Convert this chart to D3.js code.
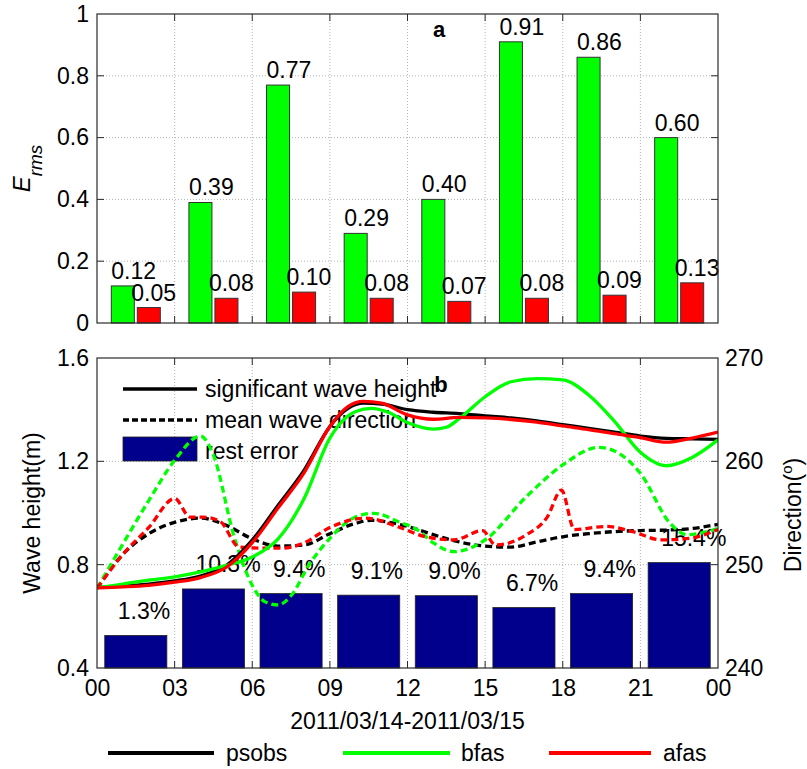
<!DOCTYPE html>
<html>
<head>
<meta charset="utf-8">
<script src="https://cdn.jsdelivr.net/npm/d3@7"></script>
<style>
  body { margin: 0; background: #fff; }
  text { font-family: Arial, "Liberation Sans", sans-serif; fill: #000; }
</style>
</head>
<body>
<svg id="chart" width="807" height="769"></svg>
<script>
// ---- panel a: RMS error per 3-hour window ----
const windows = ["00-03", "03-06", "06-09", "09-12", "12-15", "15-18", "18-21", "21-24"];
const ermsBfas = [0.12, 0.39, 0.77, 0.29, 0.40, 0.91, 0.86, 0.60];
const ermsAfas = [0.05, 0.08, 0.10, 0.08, 0.07, 0.08, 0.09, 0.13];
const ermsTicks = [0, 0.2, 0.4, 0.6, 0.8, 1];

// ---- panel b: rest error (%) per window, wave height and direction series ----
const restError = [1.3, 10.3, 9.4, 9.1, 9.0, 6.7, 9.4, 15.4];
const hourTicks = [0, 3, 6, 9, 12, 15, 18, 21, 24];
const hourLabels = ["00", "03", "06", "09", "12", "15", "18", "21", "00"];
const heightTicks = [0.4, 0.8, 1.2, 1.6];
const dirTicks = [240, 250, 260, 270];

// significant wave height (m), [hour, value]
const hsPsobs = [[0,0.712],[1,0.717],[2,0.725],[3,0.737],[4,0.756],[5,0.797],[6,0.895],[7,1.03],[8,1.165],[9,1.335],[9.7,1.405],[10.3,1.425],[11,1.422],[12,1.40],[13,1.39],[14,1.385],[15,1.376],[16,1.368],[17,1.357],[18,1.342],[19,1.328],[20,1.313],[21,1.298],[22,1.289],[23,1.287],[24,1.285]];
const hsBfas = [[0,0.71],[1,0.725],[2,0.74],[3,0.753],[4,0.772],[5,0.797],[6,0.83],[7,0.90],[8,1.055],[9,1.29],[10,1.393],[10.6,1.405],[11.3,1.388],[12,1.35],[13,1.325],[13.5,1.332],[14,1.365],[15,1.45],[16,1.508],[17,1.52],[18,1.515],[19,1.457],[20,1.355],[21,1.235],[22,1.183],[23,1.215],[24,1.283]];
const hsAfas = [[0,0.71],[1,0.714],[2,0.72],[3,0.732],[4,0.75],[5,0.79],[6,0.885],[7,1.02],[8,1.155],[9,1.335],[9.7,1.412],[10.3,1.432],[11,1.425],[12,1.38],[13,1.363],[14,1.37],[15,1.368],[16,1.362],[17,1.352],[18,1.337],[19,1.323],[20,1.307],[21,1.292],[22,1.274],[23,1.29],[24,1.313]];

// mean wave direction (deg), [hour, value]
const dirPsobs = [[0,247.7],[1,251.0],[2,253.0],[3,254.1],[4,254.5],[5,253.8],[6,252.5],[7,251.8],[8,251.9],[9,253.0],[10,254.0],[10.6,254.3],[11.5,254.0],[12,253.7],[13,252.9],[14,252.2],[15,251.8],[16,251.7],[17,252.2],[18,252.7],[19,253.0],[20,253.2],[21,253.3],[22,253.35],[23,253.5],[24,253.9]];
const dirBfas = [[0,247.7],[1,252.0],[2,256.2],[3,260.1],[4,262.45],[4.5,260.6],[5.3,252.7],[6,248.0],[6.5,246.4],[7,246.1],[7.5,247.0],[8.2,250.0],[9,252.55],[9.9,254.5],[10.7,254.97],[11.7,254.1],[12.4,253.35],[13,252.1],[13.8,251.26],[15,252.4],[16.6,256.6],[18,259.65],[19.4,261.36],[21,258.84],[22.15,254.0],[22.8,252.9],[23.8,253.35],[24,253.5]];
const dirAfas = [[0,247.7],[1,251.0],[2,253.6],[3,256.4],[3.6,254.6],[4.1,254.6],[4.75,254.2],[5.5,251.7],[6.5,251.6],[7.2,251.6],[8,252.1],[9,253.6],[10.4,254.5],[11.7,253.6],[12.7,252.7],[13.8,252.4],[14.9,253.3],[15.4,251.9],[16.6,252.9],[17.4,254.6],[17.95,257.2],[18.45,253.4],[19.7,253.7],[20.7,253.2],[21.8,252.4],[22.9,252.55],[24,253.4]];

const seriesNames = ["psobs", "bfas", "afas"];
const seriesColors = ["#000000", "#00ff00", "#ff0000"];

const svg = d3.select("#chart");
const frameColor = "#2a2a2a";
const gridColor = "#b4b4b4";
const tickLen = 7;
const fontStack = "Arial, 'Liberation Sans', sans-serif";

const L = 97, R = 718;

// ================= panel a =================
const aTop = 14, aBot = 323;
const xA = d3.scaleBand().domain(windows).range([L, R]).padding(0);
const xInner = d3.scaleBand().domain(["bfas", "afas"]).range([0, xA.bandwidth()])
  .paddingInner(0.115).paddingOuter(0.55);
const yA = d3.scaleLinear().domain([0, 1]).range([aBot, aTop]);
const gA = svg.append("g");

// grid
const boundaries = windows.slice(1).map(w => xA(w));
gA.selectAll(".gx").data(boundaries).join("line")
  .attr("x1", d => d).attr("x2", d => d).attr("y1", aTop).attr("y2", aBot)
  .attr("stroke", gridColor).attr("stroke-dasharray", "1,2");
gA.selectAll(".gy").data(ermsTicks.slice(1, -1)).join("line")
  .attr("x1", L).attr("x2", R).attr("y1", d => yA(d)).attr("y2", d => yA(d))
  .attr("stroke", gridColor).attr("stroke-dasharray", "1,2");

// bars
const barsA = [
  { key: "bfas", vals: ermsBfas, color: "#00ff00", dx: 0 },
  { key: "afas", vals: ermsAfas, color: "#ff0000", dx: -6 }
];
barsA.forEach(s => {
  gA.selectAll(null).data(s.vals).join("rect")
    .attr("x", (d, i) => xA(windows[i]) + xInner(s.key))
    .attr("width", xInner.bandwidth())
    .attr("y", d => yA(d)).attr("height", d => aBot - yA(d))
    .attr("fill", s.color).attr("stroke", "#333").attr("stroke-width", 1);
});
barsA.forEach(s => {
  gA.selectAll(null).data(s.vals).join("text")
    .attr("x", (d, i) => xA(windows[i]) + xInner(s.key) + s.dx)
    .attr("y", d => yA(d) - 7)
    .attr("font-size", 23)
    .text(d => d.toFixed(2));
});

// frame and ticks
gA.append("rect").attr("x", L).attr("y", aTop).attr("width", R - L).attr("height", aBot - aTop)
  .attr("fill", "none").attr("stroke", frameColor).attr("stroke-width", 1.2);
const yAxisA = d3.axisLeft(yA).tickValues(ermsTicks).tickSize(0).tickPadding(8)
  .tickFormat(d => d === 0 || d === 1 ? String(d) : d.toFixed(1));
const yaG = gA.append("g").attr("transform", `translate(${L},0)`).call(yAxisA);
yaG.select(".domain").remove();
yaG.selectAll("text").attr("font-size", 23).attr("font-family", fontStack);
ermsTicks.slice(1, -1).forEach(v => {
  gA.append("line").attr("x1", L).attr("x2", L + tickLen).attr("y1", yA(v)).attr("y2", yA(v)).attr("stroke", frameColor);
  gA.append("line").attr("x1", R).attr("x2", R - tickLen).attr("y1", yA(v)).attr("y2", yA(v)).attr("stroke", frameColor);
});
boundaries.forEach(x => {
  gA.append("line").attr("x1", x).attr("x2", x).attr("y1", aBot).attr("y2", aBot - tickLen).attr("stroke", frameColor);
  gA.append("line").attr("x1", x).attr("x2", x).attr("y1", aTop).attr("y2", aTop + tickLen).attr("stroke", frameColor);
});

// axis label E_rms
const eLab = gA.append("text")
  .attr("transform", `translate(30,${(aTop + aBot) / 2}) rotate(-90)`)
  .attr("text-anchor", "middle").attr("font-style", "italic").attr("font-size", 24);
eLab.append("tspan").text("E");
eLab.append("tspan").attr("dy", 12).attr("font-size", 19).text("rms");

gA.append("text").attr("x", 439).attr("y", 37).attr("text-anchor", "middle")
  .attr("font-weight", "bold").attr("font-size", 22).text("a");

// ================= panel b =================
const bTop = 358, bBot = 668;
const xB = d3.scaleLinear().domain([0, 24]).range([L, R]);
const yH = d3.scaleLinear().domain([0.4, 1.6]).range([bBot, bTop]);
const yD = d3.scaleLinear().domain([240, 270]).range([bBot, bTop]);
// rest error (%) shares the left axis: 0 % sits at 0.5 m, 1 % per 0.02 m
const yErr = d3.scaleLinear().domain([-5, 55]).range([bBot, bTop]);
const xBar = d3.scaleBand().domain(windows).range([L, R]).paddingInner(0.2).paddingOuter(0.1);
const gB = svg.append("g");

// grid
gB.selectAll(".gx").data(hourTicks.slice(1, -1)).join("line")
  .attr("x1", d => xB(d)).attr("x2", d => xB(d)).attr("y1", bTop).attr("y2", bBot)
  .attr("stroke", gridColor).attr("stroke-dasharray", "1,2");
gB.selectAll(".gy").data(heightTicks.slice(1, -1)).join("line")
  .attr("x1", L).attr("x2", R).attr("y1", d => yH(d)).attr("y2", d => yH(d))
  .attr("stroke", gridColor).attr("stroke-dasharray", "1,2");

// rest-error bars
const navy = "#00008c";
gB.selectAll(".eb").data(restError).join("rect")
  .attr("x", (d, i) => xBar(windows[i])).attr("width", xBar.bandwidth())
  .attr("y", d => yErr(d)).attr("height", d => bBot - yErr(d))
  .attr("fill", navy).attr("stroke", "#222").attr("stroke-width", 0.8);
gB.selectAll(".el").data(restError).join("text")
  .attr("x", (d, i) => xBar(windows[i]) + 13)
  .attr("y", d => yErr(d) - 16.5)
  .attr("font-size", 23)
  .text(d => d.toFixed(1) + "%");

// inner legend
const lg = gB.append("g");
lg.append("line").attr("x1", 123).attr("x2", 197).attr("y1", 389).attr("y2", 389)
  .attr("stroke", "#000").attr("stroke-width", 3.3);
lg.append("text").attr("x", 205).attr("y", 397).attr("font-size", 23).text("significant wave height");
lg.append("line").attr("x1", 123).attr("x2", 197).attr("y1", 420).attr("y2", 420)
  .attr("stroke", "#000").attr("stroke-width", 3.3).attr("stroke-dasharray", "6,3");
lg.append("text").attr("x", 205).attr("y", 428).attr("font-size", 23).text("mean wave direction");
lg.append("rect").attr("x", 123).attr("y", 437).attr("width", 74).attr("height", 24)
  .attr("fill", navy).attr("stroke", "#222").attr("stroke-width", 0.8);
lg.append("text").attr("x", 205).attr("y", 459).attr("font-size", 23).text("rest error");

// series lines
const lineH = d3.line().x(d => xB(d[0])).y(d => yH(d[1])).curve(d3.curveMonotoneX);
const lineD = d3.line().x(d => xB(d[0])).y(d => yD(d[1])).curve(d3.curveMonotoneX);
const hsSeries = [hsPsobs, hsBfas, hsAfas];
const dirSeries = [dirPsobs, dirBfas, dirAfas];
svg.append("clipPath").attr("id", "clipB").append("rect")
  .attr("x", L).attr("y", bTop).attr("width", R - L).attr("height", bBot - bTop);
const lines = gB.append("g").attr("clip-path", "url(#clipB)");
[0, 1, 2].forEach(i => {
  lines.append("path").datum(dirSeries[i]).attr("d", lineD)
    .attr("fill", "none").attr("stroke", seriesColors[i]).attr("stroke-width", 3.3)
    .attr("stroke-dasharray", "7,4");
});
[0, 1, 2].forEach(i => {
  lines.append("path").datum(hsSeries[i]).attr("d", lineH)
    .attr("fill", "none").attr("stroke", seriesColors[i]).attr("stroke-width", 3.3)
    .attr("stroke-linejoin", "round");
});

// frame and ticks
gB.append("rect").attr("x", L).attr("y", bTop).attr("width", R - L).attr("height", bBot - bTop)
  .attr("fill", "none").attr("stroke", frameColor).attr("stroke-width", 1.2);
hourTicks.slice(1, -1).forEach(h => {
  gB.append("line").attr("x1", xB(h)).attr("x2", xB(h)).attr("y1", bBot).attr("y2", bBot - tickLen).attr("stroke", frameColor);
  gB.append("line").attr("x1", xB(h)).attr("x2", xB(h)).attr("y1", bTop).attr("y2", bTop + tickLen).attr("stroke", frameColor);
});
heightTicks.slice(1, -1).forEach(v => {
  gB.append("line").attr("x1", L).attr("x2", L + tickLen).attr("y1", yH(v)).attr("y2", yH(v)).attr("stroke", frameColor);
});
dirTicks.slice(1, -1).forEach(v => {
  gB.append("line").attr("x1", R).attr("x2", R - tickLen).attr("y1", yD(v)).attr("y2", yD(v)).attr("stroke", frameColor);
});

const xAxisB = d3.axisBottom(xB).tickValues(hourTicks).tickSize(0).tickPadding(12)
  .tickFormat((d, i) => hourLabels[i]);
const xbG = gB.append("g").attr("transform", `translate(0,${bBot})`).call(xAxisB);
xbG.select(".domain").remove();
xbG.selectAll("text").attr("font-size", 23).attr("font-family", fontStack);

const yAxisH = d3.axisLeft(yH).tickValues(heightTicks).tickSize(0).tickPadding(8).tickFormat(d3.format(".1f"));
const yhG = gB.append("g").attr("transform", `translate(${L},0)`).call(yAxisH);
yhG.select(".domain").remove();
yhG.selectAll("text").attr("font-size", 23).attr("font-family", fontStack);

const yAxisD = d3.axisRight(yD).tickValues(dirTicks).tickSize(0).tickPadding(7).tickFormat(d3.format("d"));
const ydG = gB.append("g").attr("transform", `translate(${R},0)`).call(yAxisD);
ydG.select(".domain").remove();
ydG.selectAll("text").attr("font-size", 23).attr("font-family", fontStack);

gB.append("text").attr("transform", `translate(40,${(bTop + bBot) / 2}) rotate(-90)`)
  .attr("text-anchor", "middle").attr("font-size", 23).text("Wave height(m)");

const dLab = gB.append("text").attr("transform", `translate(801,${(bTop + bBot) / 2 + 2}) rotate(-90)`)
  .attr("text-anchor", "middle").attr("font-size", 23);
dLab.append("tspan").text("Direction(");
dLab.append("tspan").attr("dy", -9).attr("font-size", 15).text("o");
dLab.append("tspan").attr("dy", 9).text(")");

gB.append("text").attr("x", 441).attr("y", 392).attr("text-anchor", "middle")
  .attr("font-weight", "bold").attr("font-size", 22).text("b");

gB.append("text").attr("x", (L + R) / 2).attr("y", 729).attr("text-anchor", "middle")
  .attr("font-size", 23).text("2011/03/14-2011/03/15");

// ================= bottom legend =================
const legendX = [[108, 214, 226], [343, 450, 461], [549, 651, 663]];
const bl = svg.append("g");
seriesNames.forEach((name, i) => {
  bl.append("line").attr("x1", legendX[i][0]).attr("x2", legendX[i][1]).attr("y1", 753).attr("y2", 753)
    .attr("stroke", seriesColors[i]).attr("stroke-width", 4);
  bl.append("text").attr("x", legendX[i][2]).attr("y", 761).attr("font-size", 23).text(name);
});
</script>
</body>
</html>
